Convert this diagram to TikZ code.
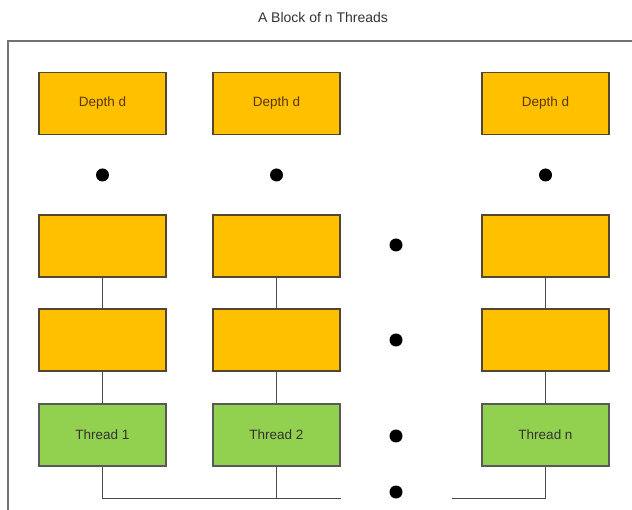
\documentclass[tikz,border=0pt]{standalone}
\usepackage{fontspec}
\setmainfont{Liberation Sans}
\begin{document}
\begin{tikzpicture}[x=1pt,y=-1pt,
  depthbox/.style={draw={rgb,255:red,85;green,70;blue,50}, line width=1.2pt, fill={rgb,255:red,255;green,192;blue,0},
    minimum width=127pt, minimum height=62pt, inner sep=0pt, font=\fontsize{13.5}{15}\selectfont, text={rgb,255:red,90;green,55;blue,10}},
  threadbox/.style={draw=black!65, line width=1.2pt, fill={rgb,255:red,146;green,208;blue,80},
    minimum width=127pt, minimum height=62pt, inner sep=0pt, font=\fontsize{13.5}{15}\selectfont, text=black!80},
  link/.style={draw=black!70, line width=1pt},
  ellip/.style={circle, fill=black, inner sep=0pt, minimum size=13pt}]
\useasboundingbox (0,0) rectangle (632,510);
% outer frame of the thread block
\begin{scope}
\clip (0,0) rectangle (632,510);
\draw[black!55, line width=1.2pt] (8,41) rectangle (650,530);
\end{scope}
\node[font=\fontsize{14}{16}\selectfont, text=black!80] (title) at (323,18) {A Block of n Threads};

% column 1
\node[depthbox] (d1) at (102.5,103.5) {Depth d};
\node[ellip] (e1) at (102.5,175) {};
\node[depthbox] (a1) at (102.5,246) {};
\node[depthbox] (b1) at (102.5,340) {};
\node[threadbox] (t1) at (102.5,435) {Thread 1};
% column 2
\node[depthbox] (d2) at (276.5,103.5) {Depth d};
\node[ellip] (e2) at (276.5,175) {};
\node[depthbox] (a2) at (276.5,246) {};
\node[depthbox] (b2) at (276.5,340) {};
\node[threadbox] (t2) at (276.5,435) {Thread 2};
% column n
\node[depthbox] (d3) at (545.5,103.5) {Depth d};
\node[ellip] (e3) at (545.5,175) {};
\node[depthbox] (a3) at (545.5,246) {};
\node[depthbox] (b3) at (545.5,340) {};
\node[threadbox] (t3) at (545.5,435) {Thread n};
% ellipsis between columns
\node[ellip] (m1) at (396,245) {};
\node[ellip] (m2) at (396,340) {};
\node[ellip] (m3) at (396,436) {};
\node[ellip] (m4) at (396,492) {};

% links within columns
\foreach \c in {1,2,3}{
  \draw[link] (a\c) -- (b\c);
  \draw[link] (b\c) -- (t\c);
}
% bottom bus
\coordinate (j1) at (102.5,498);
\coordinate (j2) at (276.5,498);
\coordinate (j3) at (545.5,498);
\coordinate (g1) at (341,498);
\coordinate (g2) at (452,498);
\draw[link] (t1.south) -- (j1) -- (g1);
\draw[link] (t2.south) -- (j2);
\draw[link] (t3.south) -- (j3) -- (g2);
\end{tikzpicture}
\end{document}
